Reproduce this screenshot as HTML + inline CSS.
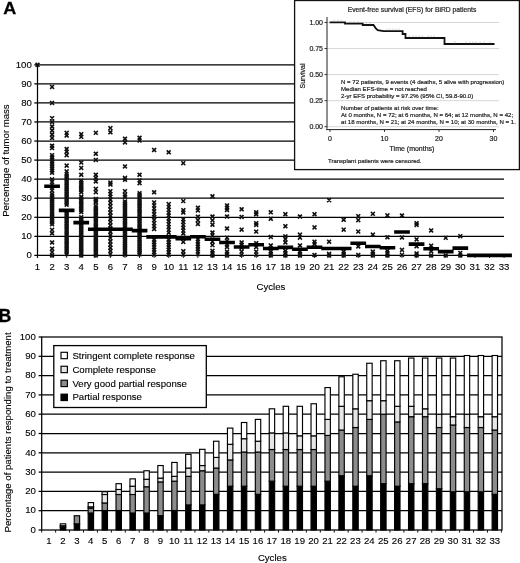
<!DOCTYPE html>
<html lang="en"><head><meta charset="utf-8"><title>Figure</title>
<style>html,body{margin:0;padding:0;background:#fff}svg{display:block}#chartA text,#chartB text{fill:#000;stroke:#000;stroke-width:0.12px}#inset text{stroke:#222;stroke-width:0.2px}</style></head>
<body>
<svg width="520" height="563" viewBox="0 0 520 563" font-family='"Liberation Sans", Arial, Helvetica, sans-serif' fill="#111">
<rect x="0" y="0" width="520" height="563" fill="#fff"/>
<g id="chartA">
<line x1="37.5" y1="255.40" x2="504" y2="255.40" stroke="#000" stroke-width="1.25"/>
<line x1="34.3" y1="255.40" x2="37.5" y2="255.40" stroke="#000" stroke-width="1.25"/>
<text x="31.8" y="258.20" font-size="9.6" text-anchor="end">0</text>
<line x1="37.5" y1="236.34" x2="504" y2="236.34" stroke="#000" stroke-width="1.25"/>
<line x1="34.3" y1="236.34" x2="37.5" y2="236.34" stroke="#000" stroke-width="1.25"/>
<text x="31.8" y="239.14" font-size="9.6" text-anchor="end">10</text>
<line x1="37.5" y1="217.28" x2="504" y2="217.28" stroke="#000" stroke-width="1.25"/>
<line x1="34.3" y1="217.28" x2="37.5" y2="217.28" stroke="#000" stroke-width="1.25"/>
<text x="31.8" y="220.08" font-size="9.6" text-anchor="end">20</text>
<line x1="37.5" y1="198.22" x2="504" y2="198.22" stroke="#000" stroke-width="1.25"/>
<line x1="34.3" y1="198.22" x2="37.5" y2="198.22" stroke="#000" stroke-width="1.25"/>
<text x="31.8" y="201.02" font-size="9.6" text-anchor="end">30</text>
<line x1="37.5" y1="179.16" x2="504" y2="179.16" stroke="#000" stroke-width="1.25"/>
<line x1="34.3" y1="179.16" x2="37.5" y2="179.16" stroke="#000" stroke-width="1.25"/>
<text x="31.8" y="181.96" font-size="9.6" text-anchor="end">40</text>
<line x1="37.5" y1="160.10" x2="504" y2="160.10" stroke="#000" stroke-width="1.25"/>
<line x1="34.3" y1="160.10" x2="37.5" y2="160.10" stroke="#000" stroke-width="1.25"/>
<text x="31.8" y="162.90" font-size="9.6" text-anchor="end">50</text>
<line x1="37.5" y1="141.04" x2="504" y2="141.04" stroke="#000" stroke-width="1.25"/>
<line x1="34.3" y1="141.04" x2="37.5" y2="141.04" stroke="#000" stroke-width="1.25"/>
<text x="31.8" y="143.84" font-size="9.6" text-anchor="end">60</text>
<line x1="37.5" y1="121.98" x2="504" y2="121.98" stroke="#000" stroke-width="1.25"/>
<line x1="34.3" y1="121.98" x2="37.5" y2="121.98" stroke="#000" stroke-width="1.25"/>
<text x="31.8" y="124.78" font-size="9.6" text-anchor="end">70</text>
<line x1="37.5" y1="102.92" x2="504" y2="102.92" stroke="#000" stroke-width="1.25"/>
<line x1="34.3" y1="102.92" x2="37.5" y2="102.92" stroke="#000" stroke-width="1.25"/>
<text x="31.8" y="105.72" font-size="9.6" text-anchor="end">80</text>
<line x1="37.5" y1="83.86" x2="504" y2="83.86" stroke="#000" stroke-width="1.25"/>
<line x1="34.3" y1="83.86" x2="37.5" y2="83.86" stroke="#000" stroke-width="1.25"/>
<text x="31.8" y="86.66" font-size="9.6" text-anchor="end">90</text>
<line x1="37.5" y1="64.80" x2="504" y2="64.80" stroke="#000" stroke-width="1.25"/>
<line x1="34.3" y1="64.80" x2="37.5" y2="64.80" stroke="#000" stroke-width="1.25"/>
<text x="31.8" y="67.60" font-size="9.6" text-anchor="end">100</text>
<line x1="37.5" y1="64.30" x2="37.5" y2="257.90" stroke="#000" stroke-width="1.25"/>
<line x1="37.50" y1="255.4" x2="37.50" y2="257.9" stroke="#111" stroke-width="1"/>
<text x="37.50" y="270.2" font-size="9.6" text-anchor="middle">1</text>
<line x1="52.08" y1="255.4" x2="52.08" y2="257.9" stroke="#111" stroke-width="1"/>
<text x="52.08" y="270.2" font-size="9.6" text-anchor="middle">2</text>
<line x1="66.66" y1="255.4" x2="66.66" y2="257.9" stroke="#111" stroke-width="1"/>
<text x="66.66" y="270.2" font-size="9.6" text-anchor="middle">3</text>
<line x1="81.24" y1="255.4" x2="81.24" y2="257.9" stroke="#111" stroke-width="1"/>
<text x="81.24" y="270.2" font-size="9.6" text-anchor="middle">4</text>
<line x1="95.82" y1="255.4" x2="95.82" y2="257.9" stroke="#111" stroke-width="1"/>
<text x="95.82" y="270.2" font-size="9.6" text-anchor="middle">5</text>
<line x1="110.40" y1="255.4" x2="110.40" y2="257.9" stroke="#111" stroke-width="1"/>
<text x="110.40" y="270.2" font-size="9.6" text-anchor="middle">6</text>
<line x1="124.98" y1="255.4" x2="124.98" y2="257.9" stroke="#111" stroke-width="1"/>
<text x="124.98" y="270.2" font-size="9.6" text-anchor="middle">7</text>
<line x1="139.56" y1="255.4" x2="139.56" y2="257.9" stroke="#111" stroke-width="1"/>
<text x="139.56" y="270.2" font-size="9.6" text-anchor="middle">8</text>
<line x1="154.14" y1="255.4" x2="154.14" y2="257.9" stroke="#111" stroke-width="1"/>
<text x="154.14" y="270.2" font-size="9.6" text-anchor="middle">9</text>
<line x1="168.72" y1="255.4" x2="168.72" y2="257.9" stroke="#111" stroke-width="1"/>
<text x="168.72" y="270.2" font-size="9.6" text-anchor="middle">10</text>
<line x1="183.30" y1="255.4" x2="183.30" y2="257.9" stroke="#111" stroke-width="1"/>
<text x="183.30" y="270.2" font-size="9.6" text-anchor="middle">11</text>
<line x1="197.88" y1="255.4" x2="197.88" y2="257.9" stroke="#111" stroke-width="1"/>
<text x="197.88" y="270.2" font-size="9.6" text-anchor="middle">12</text>
<line x1="212.46" y1="255.4" x2="212.46" y2="257.9" stroke="#111" stroke-width="1"/>
<text x="212.46" y="270.2" font-size="9.6" text-anchor="middle">13</text>
<line x1="227.04" y1="255.4" x2="227.04" y2="257.9" stroke="#111" stroke-width="1"/>
<text x="227.04" y="270.2" font-size="9.6" text-anchor="middle">14</text>
<line x1="241.62" y1="255.4" x2="241.62" y2="257.9" stroke="#111" stroke-width="1"/>
<text x="241.62" y="270.2" font-size="9.6" text-anchor="middle">15</text>
<line x1="256.20" y1="255.4" x2="256.20" y2="257.9" stroke="#111" stroke-width="1"/>
<text x="256.20" y="270.2" font-size="9.6" text-anchor="middle">16</text>
<line x1="270.78" y1="255.4" x2="270.78" y2="257.9" stroke="#111" stroke-width="1"/>
<text x="270.78" y="270.2" font-size="9.6" text-anchor="middle">17</text>
<line x1="285.36" y1="255.4" x2="285.36" y2="257.9" stroke="#111" stroke-width="1"/>
<text x="285.36" y="270.2" font-size="9.6" text-anchor="middle">18</text>
<line x1="299.94" y1="255.4" x2="299.94" y2="257.9" stroke="#111" stroke-width="1"/>
<text x="299.94" y="270.2" font-size="9.6" text-anchor="middle">19</text>
<line x1="314.52" y1="255.4" x2="314.52" y2="257.9" stroke="#111" stroke-width="1"/>
<text x="314.52" y="270.2" font-size="9.6" text-anchor="middle">20</text>
<line x1="329.10" y1="255.4" x2="329.10" y2="257.9" stroke="#111" stroke-width="1"/>
<text x="329.10" y="270.2" font-size="9.6" text-anchor="middle">21</text>
<line x1="343.68" y1="255.4" x2="343.68" y2="257.9" stroke="#111" stroke-width="1"/>
<text x="343.68" y="270.2" font-size="9.6" text-anchor="middle">22</text>
<line x1="358.26" y1="255.4" x2="358.26" y2="257.9" stroke="#111" stroke-width="1"/>
<text x="358.26" y="270.2" font-size="9.6" text-anchor="middle">23</text>
<line x1="372.84" y1="255.4" x2="372.84" y2="257.9" stroke="#111" stroke-width="1"/>
<text x="372.84" y="270.2" font-size="9.6" text-anchor="middle">24</text>
<line x1="387.42" y1="255.4" x2="387.42" y2="257.9" stroke="#111" stroke-width="1"/>
<text x="387.42" y="270.2" font-size="9.6" text-anchor="middle">25</text>
<line x1="402.00" y1="255.4" x2="402.00" y2="257.9" stroke="#111" stroke-width="1"/>
<text x="402.00" y="270.2" font-size="9.6" text-anchor="middle">26</text>
<line x1="416.58" y1="255.4" x2="416.58" y2="257.9" stroke="#111" stroke-width="1"/>
<text x="416.58" y="270.2" font-size="9.6" text-anchor="middle">27</text>
<line x1="431.16" y1="255.4" x2="431.16" y2="257.9" stroke="#111" stroke-width="1"/>
<text x="431.16" y="270.2" font-size="9.6" text-anchor="middle">28</text>
<line x1="445.74" y1="255.4" x2="445.74" y2="257.9" stroke="#111" stroke-width="1"/>
<text x="445.74" y="270.2" font-size="9.6" text-anchor="middle">29</text>
<line x1="460.32" y1="255.4" x2="460.32" y2="257.9" stroke="#111" stroke-width="1"/>
<text x="460.32" y="270.2" font-size="9.6" text-anchor="middle">30</text>
<line x1="474.90" y1="255.4" x2="474.90" y2="257.9" stroke="#111" stroke-width="1"/>
<text x="474.90" y="270.2" font-size="9.6" text-anchor="middle">31</text>
<line x1="489.48" y1="255.4" x2="489.48" y2="257.9" stroke="#111" stroke-width="1"/>
<text x="489.48" y="270.2" font-size="9.6" text-anchor="middle">32</text>
<line x1="504.06" y1="255.4" x2="504.06" y2="257.9" stroke="#111" stroke-width="1"/>
<text x="504.06" y="270.2" font-size="9.6" text-anchor="middle">33</text>
<text x="271" y="290" font-size="9.6" text-anchor="middle">Cycles</text>
<text transform="translate(9.2 160.6) rotate(-90)" font-size="9.6" text-anchor="middle">Percentage of tumor mass</text>
<text transform="translate(3.2 14.45) scale(1.05 1)" font-size="17.2" font-weight="bold" style="stroke-width:0.25px">A</text>
<path d="M36.12 63.42L38.88 66.18M36.12 66.18L38.88 63.42M50.70 85.53L53.46 88.29M50.70 88.29L53.46 85.53M50.70 101.54L53.46 104.30M50.70 104.30L53.46 101.54M50.70 116.79L53.46 119.55M50.70 119.55L53.46 116.79M50.70 120.60L53.46 123.36M50.70 123.36L53.46 120.60M50.70 125.17L53.46 127.93M50.70 127.93L53.46 125.17M50.70 129.18L53.46 131.94M50.70 131.94L53.46 129.18M50.70 133.18L53.46 135.94M50.70 135.94L53.46 133.18M50.70 136.61L53.46 139.37M50.70 139.37L53.46 136.61M50.70 144.43L53.46 147.19M50.70 147.19L53.46 144.43M50.70 146.71L53.46 149.47M50.70 149.47L53.46 146.71M50.70 153.76L53.46 156.52M50.70 156.52L53.46 153.76M50.70 155.96L53.46 158.72M50.70 158.72L53.46 155.96M50.70 158.15L53.46 160.91M50.70 160.91L53.46 158.15M50.70 160.34L53.46 163.10M50.70 163.10L53.46 160.34M50.70 162.53L53.46 165.29M50.70 165.29L53.46 162.53M50.70 164.72L53.46 167.48M50.70 167.48L53.46 164.72M50.70 166.92L53.46 169.68M50.70 169.68L53.46 166.92M50.70 169.11L53.46 171.87M50.70 171.87L53.46 169.11M50.70 171.30L53.46 174.06M50.70 174.06L53.46 171.30M50.70 177.97L53.46 180.73M50.70 180.73L53.46 177.97M50.70 180.64L53.46 183.40M50.70 183.40L53.46 180.64M50.70 183.50L53.46 186.26M50.70 186.26L53.46 183.50M50.70 186.36L53.46 189.12M50.70 189.12L53.46 186.36M50.70 189.22L53.46 191.98M50.70 191.98L53.46 189.22M50.70 192.46L53.46 195.22M50.70 195.22L53.46 192.46M50.70 194.36L53.46 197.12M50.70 197.12L53.46 194.36M50.70 196.27L53.46 199.03M50.70 199.03L53.46 196.27M50.70 198.17L53.46 200.93M50.70 200.93L53.46 198.17M50.70 200.08L53.46 202.84M50.70 202.84L53.46 200.08M50.70 201.99L53.46 204.75M50.70 204.75L53.46 201.99M50.70 203.89L53.46 206.65M50.70 206.65L53.46 203.89M50.70 205.80L53.46 208.56M50.70 208.56L53.46 205.80M50.70 207.70L53.46 210.46M50.70 210.46L53.46 207.70M50.70 209.61L53.46 212.37M50.70 212.37L53.46 209.61M50.70 211.52L53.46 214.28M50.70 214.28L53.46 211.52M50.70 213.42L53.46 216.18M50.70 216.18L53.46 213.42M50.70 215.33L53.46 218.09M50.70 218.09L53.46 215.33M50.70 217.23L53.46 219.99M50.70 219.99L53.46 217.23M50.70 219.14L53.46 221.90M50.70 221.90L53.46 219.14M50.70 221.05L53.46 223.81M50.70 223.81L53.46 221.05M50.70 222.95L53.46 225.71M50.70 225.71L53.46 222.95M50.70 228.48L53.46 231.24M50.70 231.24L53.46 228.48M50.70 231.91L53.46 234.67M50.70 234.67L53.46 231.91M50.70 241.06L53.46 243.82M50.70 243.82L53.46 241.06M50.70 247.35L53.46 250.11M50.70 250.11L53.46 247.35M50.70 250.78L53.46 253.54M50.70 253.54L53.46 250.78M50.70 254.02L53.46 256.78M50.70 256.78L53.46 254.02M65.28 131.46L68.04 134.22M65.28 134.22L68.04 131.46M65.28 134.13L68.04 136.89M65.28 136.89L68.04 134.13M65.28 147.67L68.04 150.43M65.28 150.43L68.04 147.67M65.28 150.33L68.04 153.09M65.28 153.09L68.04 150.33M65.28 153.76L68.04 156.52M65.28 156.52L68.04 153.76M65.28 164.25L68.04 167.01M65.28 167.01L68.04 164.25M65.28 169.97L68.04 172.73M65.28 172.73L68.04 169.97M65.28 172.63L68.04 175.39M65.28 175.39L68.04 172.63M65.28 174.73L68.04 177.49M65.28 177.49L68.04 174.73M65.28 176.64L68.04 179.40M65.28 179.40L68.04 176.64M65.28 178.54L68.04 181.30M65.28 181.30L68.04 178.54M65.28 180.45L68.04 183.21M65.28 183.21L68.04 180.45M65.28 182.35L68.04 185.11M65.28 185.11L68.04 182.35M65.28 184.26L68.04 187.02M65.28 187.02L68.04 184.26M65.28 186.17L68.04 188.93M65.28 188.93L68.04 186.17M65.28 188.07L68.04 190.83M65.28 190.83L68.04 188.07M65.28 189.98L68.04 192.74M65.28 192.74L68.04 189.98M65.28 191.88L68.04 194.64M65.28 194.64L68.04 191.88M65.28 193.79L68.04 196.55M65.28 196.55L68.04 193.79M65.28 195.70L68.04 198.46M65.28 198.46L68.04 195.70M65.28 197.60L68.04 200.36M65.28 200.36L68.04 197.60M65.28 199.51L68.04 202.27M65.28 202.27L68.04 199.51M65.28 201.41L68.04 204.17M65.28 204.17L68.04 201.41M65.28 203.32L68.04 206.08M65.28 206.08L68.04 203.32M65.28 210.56L68.04 213.32M65.28 213.32L68.04 210.56M65.28 212.47L68.04 215.23M65.28 215.23L68.04 212.47M65.28 214.38L68.04 217.14M65.28 217.14L68.04 214.38M65.28 216.28L68.04 219.04M65.28 219.04L68.04 216.28M65.28 218.19L68.04 220.95M65.28 220.95L68.04 218.19M65.28 220.09L68.04 222.85M65.28 222.85L68.04 220.09M65.28 222.00L68.04 224.76M65.28 224.76L68.04 222.00M65.28 223.91L68.04 226.67M65.28 226.67L68.04 223.91M65.28 225.81L68.04 228.57M65.28 228.57L68.04 225.81M65.28 227.72L68.04 230.48M65.28 230.48L68.04 227.72M65.28 229.62L68.04 232.38M65.28 232.38L68.04 229.62M65.28 231.53L68.04 234.29M65.28 234.29L68.04 231.53M65.28 233.44L68.04 236.20M65.28 236.20L68.04 233.44M65.28 235.34L68.04 238.10M65.28 238.10L68.04 235.34M65.28 237.25L68.04 240.01M65.28 240.01L68.04 237.25M65.28 239.15L68.04 241.91M65.28 241.91L68.04 239.15M65.28 241.06L68.04 243.82M65.28 243.82L68.04 241.06M65.28 242.97L68.04 245.73M65.28 245.73L68.04 242.97M65.28 244.87L68.04 247.63M65.28 247.63L68.04 244.87M65.28 246.78L68.04 249.54M65.28 249.54L68.04 246.78M65.28 248.68L68.04 251.44M65.28 251.44L68.04 248.68M65.28 250.59L68.04 253.35M65.28 253.35L68.04 250.59M65.28 252.50L68.04 255.26M65.28 255.26L68.04 252.50M79.86 132.80L82.62 135.56M79.86 135.56L82.62 132.80M79.86 135.47L82.62 138.23M79.86 138.23L82.62 135.47M79.86 161.20L82.62 163.96M79.86 163.96L82.62 161.20M79.86 166.53L82.62 169.29M79.86 169.29L82.62 166.53M79.86 173.40L82.62 176.16M79.86 176.16L82.62 173.40M79.86 179.30L82.62 182.06M79.86 182.06L82.62 179.30M79.86 181.21L82.62 183.97M79.86 183.97L82.62 181.21M79.86 183.12L82.62 185.88M79.86 185.88L82.62 183.12M79.86 185.02L82.62 187.78M79.86 187.78L82.62 185.02M79.86 186.93L82.62 189.69M79.86 189.69L82.62 186.93M79.86 188.83L82.62 191.59M79.86 191.59L82.62 188.83M79.86 190.74L82.62 193.50M79.86 193.50L82.62 190.74M79.86 195.32L82.62 198.08M79.86 198.08L82.62 195.32M79.86 197.22L82.62 199.98M79.86 199.98L82.62 197.22M79.86 199.13L82.62 201.89M79.86 201.89L82.62 199.13M79.86 201.03L82.62 203.79M79.86 203.79L82.62 201.03M79.86 202.94L82.62 205.70M79.86 205.70L82.62 202.94M79.86 204.85L82.62 207.61M79.86 207.61L82.62 204.85M79.86 206.75L82.62 209.51M79.86 209.51L82.62 206.75M79.86 208.66L82.62 211.42M79.86 211.42L82.62 208.66M79.86 210.56L82.62 213.32M79.86 213.32L82.62 210.56M79.86 215.90L82.62 218.66M79.86 218.66L82.62 215.90M79.86 217.81L82.62 220.57M79.86 220.57L82.62 217.81M79.86 219.71L82.62 222.47M79.86 222.47L82.62 219.71M79.86 221.62L82.62 224.38M79.86 224.38L82.62 221.62M79.86 223.52L82.62 226.28M79.86 226.28L82.62 223.52M79.86 225.43L82.62 228.19M79.86 228.19L82.62 225.43M79.86 227.34L82.62 230.10M79.86 230.10L82.62 227.34M79.86 229.24L82.62 232.00M79.86 232.00L82.62 229.24M79.86 231.15L82.62 233.91M79.86 233.91L82.62 231.15M79.86 233.05L82.62 235.81M79.86 235.81L82.62 233.05M79.86 234.96L82.62 237.72M79.86 237.72L82.62 234.96M79.86 236.87L82.62 239.63M79.86 239.63L82.62 236.87M79.86 238.77L82.62 241.53M79.86 241.53L82.62 238.77M79.86 240.68L82.62 243.44M79.86 243.44L82.62 240.68M79.86 242.58L82.62 245.34M79.86 245.34L82.62 242.58M79.86 244.49L82.62 247.25M79.86 247.25L82.62 244.49M79.86 246.40L82.62 249.16M79.86 249.16L82.62 246.40M79.86 248.30L82.62 251.06M79.86 251.06L82.62 248.30M79.86 250.21L82.62 252.97M79.86 252.97L82.62 250.21M79.86 252.11L82.62 254.87M79.86 254.87L82.62 252.11M79.86 254.02L82.62 256.78M79.86 256.78L82.62 254.02M94.44 131.46L97.20 134.22M94.44 134.22L97.20 131.46M94.44 152.43L97.20 155.19M94.44 155.19L97.20 152.43M94.44 158.53L97.20 161.29M94.44 161.29L97.20 158.53M94.44 173.40L97.20 176.16M94.44 176.16L97.20 173.40M94.44 176.64L97.20 179.40M94.44 179.40L97.20 176.64M94.44 180.07L97.20 182.83M94.44 182.83L97.20 180.07M94.44 187.50L97.20 190.26M94.44 190.26L97.20 187.50M94.44 190.74L97.20 193.50M94.44 193.50L97.20 190.74M94.44 197.60L97.20 200.36M94.44 200.36L97.20 197.60M94.44 199.32L97.20 202.08M94.44 202.08L97.20 199.32M94.44 201.03L97.20 203.79M94.44 203.79L97.20 201.03M94.44 204.46L97.20 207.22M94.44 207.22L97.20 204.46M94.44 206.37L97.20 209.13M94.44 209.13L97.20 206.37M94.44 208.28L97.20 211.04M94.44 211.04L97.20 208.28M94.44 210.18L97.20 212.94M94.44 212.94L97.20 210.18M94.44 212.09L97.20 214.85M94.44 214.85L97.20 212.09M94.44 213.99L97.20 216.75M94.44 216.75L97.20 213.99M94.44 215.90L97.20 218.66M94.44 218.66L97.20 215.90M94.44 217.81L97.20 220.57M94.44 220.57L97.20 217.81M94.44 219.71L97.20 222.47M94.44 222.47L97.20 219.71M94.44 221.62L97.20 224.38M94.44 224.38L97.20 221.62M94.44 223.52L97.20 226.28M94.44 226.28L97.20 223.52M94.44 225.43L97.20 228.19M94.44 228.19L97.20 225.43M94.44 227.34L97.20 230.10M94.44 230.10L97.20 227.34M94.44 229.24L97.20 232.00M94.44 232.00L97.20 229.24M94.44 231.15L97.20 233.91M94.44 233.91L97.20 231.15M94.44 233.05L97.20 235.81M94.44 235.81L97.20 233.05M94.44 234.96L97.20 237.72M94.44 237.72L97.20 234.96M94.44 236.87L97.20 239.63M94.44 239.63L97.20 236.87M94.44 238.77L97.20 241.53M94.44 241.53L97.20 238.77M94.44 240.68L97.20 243.44M94.44 243.44L97.20 240.68M94.44 242.58L97.20 245.34M94.44 245.34L97.20 242.58M94.44 244.49L97.20 247.25M94.44 247.25L97.20 244.49M94.44 246.40L97.20 249.16M94.44 249.16L97.20 246.40M94.44 248.30L97.20 251.06M94.44 251.06L97.20 248.30M94.44 250.21L97.20 252.97M94.44 252.97L97.20 250.21M94.44 252.11L97.20 254.87M94.44 254.87L97.20 252.11M94.44 254.02L97.20 256.78M94.44 256.78L97.20 254.02M109.02 126.70L111.78 129.46M109.02 129.46L111.78 126.70M109.02 130.89L111.78 133.65M109.02 133.65L111.78 130.89M109.02 181.21L111.78 183.97M109.02 183.97L111.78 181.21M109.02 183.12L111.78 185.88M109.02 185.88L111.78 183.12M109.02 189.79L111.78 192.55M109.02 192.55L111.78 189.79M109.02 192.65L111.78 195.41M109.02 195.41L111.78 192.65M109.02 195.32L111.78 198.08M109.02 198.08L111.78 195.32M109.02 198.36L111.78 201.12M109.02 201.12L111.78 198.36M109.02 201.57L111.78 204.33M109.02 204.33L111.78 201.57M109.02 204.77L111.78 207.53M109.02 207.53L111.78 204.77M109.02 207.97L111.78 210.73M109.02 210.73L111.78 207.97M109.02 211.17L111.78 213.93M109.02 213.93L111.78 211.17M109.02 214.38L111.78 217.14M109.02 217.14L111.78 214.38M109.02 217.58L111.78 220.34M109.02 220.34L111.78 217.58M109.02 220.78L111.78 223.54M109.02 223.54L111.78 220.78M109.02 223.98L111.78 226.74M109.02 226.74L111.78 223.98M109.02 227.18L111.78 229.94M109.02 229.94L111.78 227.18M109.02 230.39L111.78 233.15M109.02 233.15L111.78 230.39M109.02 233.59L111.78 236.35M109.02 236.35L111.78 233.59M109.02 236.79L111.78 239.55M109.02 239.55L111.78 236.79M109.02 239.99L111.78 242.75M109.02 242.75L111.78 239.99M109.02 243.19L111.78 245.95M109.02 245.95L111.78 243.19M109.02 246.40L111.78 249.16M109.02 249.16L111.78 246.40M109.02 249.60L111.78 252.36M109.02 252.36L111.78 249.60M109.02 252.80L111.78 255.56M109.02 255.56L111.78 252.80M123.60 137.37L126.36 140.13M123.60 140.13L126.36 137.37M123.60 140.99L126.36 143.75M123.60 143.75L126.36 140.99M123.60 165.01L126.36 167.77M123.60 167.77L126.36 165.01M123.60 176.45L126.36 179.21M123.60 179.21L126.36 176.45M123.60 178.35L126.36 181.11M123.60 181.11L126.36 178.35M123.60 189.79L126.36 192.55M123.60 192.55L126.36 189.79M123.60 193.22L126.36 195.98M123.60 195.98L126.36 193.22M123.60 195.32L126.36 198.08M123.60 198.08L126.36 195.32M123.60 200.08L126.36 202.84M123.60 202.84L126.36 200.08M123.60 201.99L126.36 204.75M123.60 204.75L126.36 201.99M123.60 203.89L126.36 206.65M123.60 206.65L126.36 203.89M123.60 205.80L126.36 208.56M123.60 208.56L126.36 205.80M123.60 207.70L126.36 210.46M123.60 210.46L126.36 207.70M123.60 209.61L126.36 212.37M123.60 212.37L126.36 209.61M123.60 211.52L126.36 214.28M123.60 214.28L126.36 211.52M123.60 213.42L126.36 216.18M123.60 216.18L126.36 213.42M123.60 215.33L126.36 218.09M123.60 218.09L126.36 215.33M123.60 217.23L126.36 219.99M123.60 219.99L126.36 217.23M123.60 219.14L126.36 221.90M123.60 221.90L126.36 219.14M123.60 221.05L126.36 223.81M123.60 223.81L126.36 221.05M123.60 222.95L126.36 225.71M123.60 225.71L126.36 222.95M123.60 224.86L126.36 227.62M123.60 227.62L126.36 224.86M123.60 226.76L126.36 229.52M123.60 229.52L126.36 226.76M123.60 228.67L126.36 231.43M123.60 231.43L126.36 228.67M123.60 230.58L126.36 233.34M123.60 233.34L126.36 230.58M123.60 232.48L126.36 235.24M123.60 235.24L126.36 232.48M123.60 234.39L126.36 237.15M123.60 237.15L126.36 234.39M123.60 236.29L126.36 239.05M123.60 239.05L126.36 236.29M123.60 238.20L126.36 240.96M123.60 240.96L126.36 238.20M123.60 240.11L126.36 242.87M123.60 242.87L126.36 240.11M123.60 242.01L126.36 244.77M123.60 244.77L126.36 242.01M123.60 243.92L126.36 246.68M123.60 246.68L126.36 243.92M123.60 245.82L126.36 248.58M123.60 248.58L126.36 245.82M123.60 247.73L126.36 250.49M123.60 250.49L126.36 247.73M123.60 249.64L126.36 252.40M123.60 252.40L126.36 249.64M123.60 251.54L126.36 254.30M123.60 254.30L126.36 251.54M123.60 253.45L126.36 256.21M123.60 256.21L126.36 253.45M138.18 136.42L140.94 139.18M138.18 139.18L140.94 136.42M138.18 139.09L140.94 141.85M138.18 141.85L140.94 139.09M138.18 173.40L140.94 176.16M138.18 176.16L140.94 173.40M138.18 179.11L140.94 181.87M138.18 181.87L140.94 179.11M138.18 181.78L140.94 184.54M138.18 184.54L140.94 181.78M138.18 191.88L140.94 194.64M138.18 194.64L140.94 191.88M138.18 193.79L140.94 196.55M138.18 196.55L140.94 193.79M138.18 195.70L140.94 198.46M138.18 198.46L140.94 195.70M138.18 197.60L140.94 200.36M138.18 200.36L140.94 197.60M138.18 199.51L140.94 202.27M138.18 202.27L140.94 199.51M138.18 201.41L140.94 204.17M138.18 204.17L140.94 201.41M138.18 203.32L140.94 206.08M138.18 206.08L140.94 203.32M138.18 205.23L140.94 207.99M138.18 207.99L140.94 205.23M138.18 207.13L140.94 209.89M138.18 209.89L140.94 207.13M138.18 209.04L140.94 211.80M138.18 211.80L140.94 209.04M138.18 210.94L140.94 213.70M138.18 213.70L140.94 210.94M138.18 212.85L140.94 215.61M138.18 215.61L140.94 212.85M138.18 214.76L140.94 217.52M138.18 217.52L140.94 214.76M138.18 216.66L140.94 219.42M138.18 219.42L140.94 216.66M138.18 218.57L140.94 221.33M138.18 221.33L140.94 218.57M138.18 220.47L140.94 223.23M138.18 223.23L140.94 220.47M138.18 222.38L140.94 225.14M138.18 225.14L140.94 222.38M138.18 224.29L140.94 227.05M138.18 227.05L140.94 224.29M138.18 226.19L140.94 228.95M138.18 228.95L140.94 226.19M138.18 228.10L140.94 230.86M138.18 230.86L140.94 228.10M138.18 230.00L140.94 232.76M138.18 232.76L140.94 230.00M138.18 231.91L140.94 234.67M138.18 234.67L140.94 231.91M138.18 233.82L140.94 236.58M138.18 236.58L140.94 233.82M138.18 235.72L140.94 238.48M138.18 238.48L140.94 235.72M138.18 237.63L140.94 240.39M138.18 240.39L140.94 237.63M138.18 239.53L140.94 242.29M138.18 242.29L140.94 239.53M138.18 241.44L140.94 244.20M138.18 244.20L140.94 241.44M138.18 243.35L140.94 246.11M138.18 246.11L140.94 243.35M138.18 245.25L140.94 248.01M138.18 248.01L140.94 245.25M138.18 247.16L140.94 249.92M138.18 249.92L140.94 247.16M138.18 249.06L140.94 251.82M138.18 251.82L140.94 249.06M138.18 250.97L140.94 253.73M138.18 253.73L140.94 250.97M138.18 252.88L140.94 255.64M138.18 255.64L140.94 252.88M152.76 148.62L155.52 151.38M152.76 151.38L155.52 148.62M152.76 190.93L155.52 193.69M152.76 193.69L155.52 190.93M152.76 201.03L155.52 203.79M152.76 203.79L155.52 201.03M152.76 203.99L155.52 206.75M152.76 206.75L155.52 203.99M152.76 206.94L155.52 209.70M152.76 209.70L155.52 206.94M152.76 209.90L155.52 212.66M152.76 212.66L155.52 209.90M152.76 212.85L155.52 215.61M152.76 215.61L155.52 212.85M152.76 215.80L155.52 218.56M152.76 218.56L155.52 215.80M152.76 218.76L155.52 221.52M152.76 221.52L155.52 218.76M152.76 221.71L155.52 224.47M152.76 224.47L155.52 221.71M152.76 224.67L155.52 227.43M152.76 227.43L155.52 224.67M152.76 227.62L155.52 230.38M152.76 230.38L155.52 227.62M152.76 238.39L155.52 241.15M152.76 241.15L155.52 238.39M152.76 240.87L155.52 243.63M152.76 243.63L155.52 240.87M152.76 243.35L155.52 246.11M152.76 246.11L155.52 243.35M152.76 245.82L155.52 248.58M152.76 248.58L155.52 245.82M152.76 248.30L155.52 251.06M152.76 251.06L155.52 248.30M152.76 250.78L155.52 253.54M152.76 253.54L155.52 250.78M152.76 253.26L155.52 256.02M152.76 256.02L155.52 253.26M167.34 150.91L170.10 153.67M167.34 153.67L170.10 150.91M167.34 202.75L170.10 205.51M167.34 205.51L170.10 202.75M167.34 205.61L170.10 208.37M167.34 208.37L170.10 205.61M167.34 208.47L170.10 211.23M167.34 211.23L170.10 208.47M167.34 211.33L170.10 214.09M167.34 214.09L170.10 211.33M167.34 214.18L170.10 216.94M167.34 216.94L170.10 214.18M167.34 217.04L170.10 219.80M167.34 219.80L170.10 217.04M167.34 219.90L170.10 222.66M167.34 222.66L170.10 219.90M167.34 222.76L170.10 225.52M167.34 225.52L170.10 222.76M167.34 225.62L170.10 228.38M167.34 228.38L170.10 225.62M167.34 228.48L170.10 231.24M167.34 231.24L170.10 228.48M167.34 231.34L170.10 234.10M167.34 234.10L170.10 231.34M167.34 238.39L170.10 241.15M167.34 241.15L170.10 238.39M167.34 240.87L170.10 243.63M167.34 243.63L170.10 240.87M167.34 243.35L170.10 246.11M167.34 246.11L170.10 243.35M167.34 245.82L170.10 248.58M167.34 248.58L170.10 245.82M167.34 248.30L170.10 251.06M167.34 251.06L170.10 248.30M167.34 250.78L170.10 253.54M167.34 253.54L170.10 250.78M167.34 253.26L170.10 256.02M167.34 256.02L170.10 253.26M181.92 161.77L184.68 164.53M181.92 164.53L184.68 161.77M181.92 199.70L184.68 202.46M181.92 202.46L184.68 199.70M181.92 208.85L184.68 211.61M181.92 211.61L184.68 208.85M181.92 211.14L184.68 213.90M181.92 213.90L184.68 211.14M181.92 217.81L184.68 220.57M181.92 220.57L184.68 217.81M181.92 220.67L184.68 223.43M181.92 223.43L184.68 220.67M181.92 223.52L184.68 226.28M181.92 226.28L184.68 223.52M181.92 226.38L184.68 229.14M181.92 229.14L184.68 226.38M181.92 229.24L184.68 232.00M181.92 232.00L184.68 229.24M181.92 232.10L184.68 234.86M181.92 234.86L184.68 232.10M181.92 240.49L184.68 243.25M181.92 243.25L184.68 240.49M181.92 249.83L184.68 252.59M181.92 252.59L184.68 249.83M181.92 253.07L184.68 255.83M181.92 255.83L184.68 253.07M196.50 206.37L199.26 209.13M196.50 209.13L199.26 206.37M196.50 209.04L199.26 211.80M196.50 211.80L199.26 209.04M196.50 215.33L199.26 218.09M196.50 218.09L199.26 215.33M196.50 218.76L199.26 221.52M196.50 221.52L199.26 218.76M196.50 222.57L199.26 225.33M196.50 225.33L199.26 222.57M196.50 237.82L199.26 240.58M196.50 240.58L199.26 237.82M196.50 240.30L199.26 243.06M196.50 243.06L199.26 240.30M196.50 242.77L199.26 245.53M196.50 245.53L199.26 242.77M196.50 245.25L199.26 248.01M196.50 248.01L199.26 245.25M196.50 247.73L199.26 250.49M196.50 250.49L199.26 247.73M196.50 250.21L199.26 252.97M196.50 252.97L199.26 250.21M196.50 252.69L199.26 255.45M196.50 255.45L199.26 252.69M211.08 194.93L213.84 197.69M211.08 197.69L213.84 194.93M211.08 215.14L213.84 217.90M211.08 217.90L213.84 215.14M211.08 218.95L213.84 221.71M211.08 221.71L213.84 218.95M211.08 223.33L213.84 226.09M211.08 226.09L213.84 223.33M211.08 231.15L213.84 233.91M211.08 233.91L213.84 231.15M211.08 234.01L213.84 236.77M211.08 236.77L213.84 234.01M211.08 240.30L213.84 243.06M211.08 243.06L213.84 240.30M211.08 243.73L213.84 246.49M211.08 246.49L213.84 243.73M211.08 249.45L213.84 252.21M211.08 252.21L213.84 249.45M211.08 251.73L213.84 254.49M211.08 254.49L213.84 251.73M211.08 254.02L213.84 256.78M211.08 256.78L213.84 254.02M225.66 204.08L228.42 206.84M225.66 206.84L228.42 204.08M225.66 206.37L228.42 209.13M225.66 209.13L228.42 206.37M225.66 208.66L228.42 211.42M225.66 211.42L228.42 208.66M225.66 215.14L228.42 217.90M225.66 217.90L228.42 215.14M225.66 227.15L228.42 229.91M225.66 229.91L228.42 227.15M225.66 236.29L228.42 239.05M225.66 239.05L228.42 236.29M225.66 239.53L228.42 242.29M225.66 242.29L228.42 239.53M225.66 243.35L228.42 246.11M225.66 246.11L228.42 243.35M225.66 245.63L228.42 248.39M225.66 248.39L228.42 245.63M225.66 250.21L228.42 252.97M225.66 252.97L228.42 250.21M225.66 252.50L228.42 255.26M225.66 255.26L228.42 252.50M225.66 254.02L228.42 256.78M225.66 256.78L228.42 254.02M240.24 207.89L243.00 210.65M240.24 210.65L243.00 207.89M240.24 215.52L243.00 218.28M240.24 218.28L243.00 215.52M240.24 228.29L243.00 231.05M240.24 231.05L243.00 228.29M240.24 241.06L243.00 243.82M240.24 243.82L243.00 241.06M240.24 243.35L243.00 246.11M240.24 246.11L243.00 243.35M240.24 246.40L243.00 249.16M240.24 249.16L243.00 246.40M240.24 250.21L243.00 252.97M240.24 252.97L243.00 250.21M240.24 253.26L243.00 256.02M240.24 256.02L243.00 253.26M254.82 210.94L257.58 213.70M254.82 213.70L257.58 210.94M254.82 212.85L257.58 215.61M254.82 215.61L257.58 212.85M254.82 221.81L257.58 224.57M254.82 224.57L257.58 221.81M254.82 223.52L257.58 226.28M254.82 226.28L257.58 223.52M254.82 230.20L257.58 232.96M254.82 232.96L257.58 230.20M254.82 241.82L257.58 244.58M254.82 244.58L257.58 241.82M254.82 245.63L257.58 248.39M254.82 248.39L257.58 245.63M254.82 250.21L257.58 252.97M254.82 252.97L257.58 250.21M254.82 253.26L257.58 256.02M254.82 256.02L257.58 253.26M269.40 210.94L272.16 213.70M269.40 213.70L272.16 210.94M269.40 217.42L272.16 220.18M269.40 220.18L272.16 217.42M269.40 235.53L272.16 238.29M269.40 238.29L272.16 235.53M269.40 244.11L272.16 246.87M269.40 246.87L272.16 244.11M269.40 250.21L272.16 252.97M269.40 252.97L272.16 250.21M269.40 252.50L272.16 255.26M269.40 255.26L272.16 252.50M269.40 254.02L272.16 256.78M269.40 256.78L272.16 254.02M283.98 212.85L286.74 215.61M283.98 215.61L286.74 212.85M283.98 224.86L286.74 227.62M283.98 227.62L286.74 224.86M283.98 234.96L286.74 237.72M283.98 237.72L286.74 234.96M283.98 237.82L286.74 240.58M283.98 240.58L286.74 237.82M283.98 241.06L286.74 243.82M283.98 243.82L286.74 241.06M283.98 249.45L286.74 252.21M283.98 252.21L286.74 249.45M283.98 251.73L286.74 254.49M283.98 254.49L286.74 251.73M283.98 254.02L286.74 256.78M283.98 256.78L286.74 254.02M298.56 215.14L301.32 217.90M298.56 217.90L301.32 215.14M298.56 233.24L301.32 236.00M298.56 236.00L301.32 233.24M298.56 236.29L301.32 239.05M298.56 239.05L301.32 236.29M298.56 244.11L301.32 246.87M298.56 246.87L301.32 244.11M298.56 250.21L301.32 252.97M298.56 252.97L301.32 250.21M298.56 252.50L301.32 255.26M298.56 255.26L301.32 252.50M298.56 254.02L301.32 256.78M298.56 256.78L301.32 254.02M313.14 212.85L315.90 215.61M313.14 215.61L315.90 212.85M313.14 226.00L315.90 228.76M313.14 228.76L315.90 226.00M313.14 240.30L315.90 243.06M313.14 243.06L315.90 240.30M313.14 242.58L315.90 245.34M313.14 245.34L315.90 242.58M313.14 253.64L315.90 256.40M313.14 256.40L315.90 253.64M327.72 198.75L330.48 201.51M327.72 201.51L330.48 198.75M327.72 240.30L330.48 243.06M327.72 243.06L330.48 240.30M327.72 252.50L330.48 255.26M327.72 255.26L330.48 252.50M327.72 254.02L330.48 256.78M327.72 256.78L330.48 254.02M342.30 218.38L345.06 221.14M342.30 221.14L345.06 218.38M342.30 228.29L345.06 231.05M342.30 231.05L345.06 228.29M342.30 250.21L345.06 252.97M342.30 252.97L345.06 250.21M342.30 252.50L345.06 255.26M342.30 255.26L345.06 252.50M342.30 254.02L345.06 256.78M342.30 256.78L345.06 254.02M356.88 214.76L359.64 217.52M356.88 217.52L359.64 214.76M356.88 218.76L359.64 221.52M356.88 221.52L359.64 218.76M356.88 230.20L359.64 232.96M356.88 232.96L359.64 230.20M356.88 245.06L359.64 247.82M356.88 247.82L359.64 245.06M356.88 253.64L359.64 256.40M356.88 256.40L359.64 253.64M371.46 212.47L374.22 215.23M371.46 215.23L374.22 212.47M371.46 233.24L374.22 236.00M371.46 236.00L374.22 233.24M371.46 250.21L374.22 252.97M371.46 252.97L374.22 250.21M371.46 252.50L374.22 255.26M371.46 255.26L374.22 252.50M371.46 254.02L374.22 256.78M371.46 256.78L374.22 254.02M386.04 213.99L388.80 216.75M386.04 216.75L388.80 213.99M386.04 235.91L388.80 238.67M386.04 238.67L388.80 235.91M386.04 249.45L388.80 252.21M386.04 252.21L388.80 249.45M386.04 251.73L388.80 254.49M386.04 254.49L388.80 251.73M386.04 254.02L388.80 256.78M386.04 256.78L388.80 254.02M400.62 214.18L403.38 216.94M400.62 216.94L403.38 214.18M400.62 236.10L403.38 238.86M400.62 238.86L403.38 236.10M400.62 248.49L403.38 251.25M400.62 251.25L403.38 248.49M400.62 253.45L403.38 256.21M400.62 256.21L403.38 253.45M415.20 221.81L417.96 224.57M415.20 224.57L417.96 221.81M415.20 223.52L417.96 226.28M415.20 226.28L417.96 223.52M415.20 238.01L417.96 240.77M415.20 240.77L417.96 238.01M415.20 244.87L417.96 247.63M415.20 247.63L417.96 244.87M415.20 252.11L417.96 254.87M415.20 254.87L417.96 252.11M415.20 254.02L417.96 256.78M415.20 256.78L417.96 254.02M429.78 229.05L432.54 231.81M429.78 231.81L432.54 229.05M429.78 244.30L432.54 247.06M429.78 247.06L432.54 244.30M429.78 249.83L432.54 252.59M429.78 252.59L432.54 249.83M429.78 254.02L432.54 256.78M429.78 256.78L432.54 254.02M444.36 236.48L447.12 239.24M444.36 239.24L447.12 236.48M444.36 254.02L447.12 256.78M444.36 256.78L447.12 254.02M458.94 234.77L461.70 237.53M458.94 237.53L461.70 234.77M458.94 251.54L461.70 254.30M458.94 254.30L461.70 251.54M458.94 254.02L461.70 256.78M458.94 256.78L461.70 254.02" stroke="#111" stroke-width="1.6" stroke-linecap="square" fill="none"/>
<path d="M44.23 186.21H59.93M58.81 210.42H74.51M73.39 222.62H89.09M87.97 229.29H103.67M102.55 229.29H118.25M117.13 229.29H132.83M131.71 230.62H147.41M146.29 236.91H161.99M160.87 236.91H176.57M175.45 238.63H191.15M190.03 236.72H205.73M204.61 239.20H220.31M219.19 242.44H234.89M233.77 247.01H249.47M248.35 244.73H264.05M262.93 248.54H278.63M277.51 247.39H293.21M292.09 249.30H307.79M306.67 247.20H322.37M321.25 248.54H336.95M335.83 248.54H351.53M350.41 243.20H366.11M364.99 246.44H380.69M379.57 247.78H395.27M394.15 231.96H409.85M408.73 244.15H424.43M423.31 248.73H439.01M437.89 251.59H453.59M452.47 248.16H468.17M467.05 255.40H482.75M481.63 255.40H497.33M496.21 255.40H511.91" stroke="#000" stroke-width="3.6" fill="none"/>
</g>
<g id="inset">
<rect x="294.6" y="0.5" width="224.8" height="169.1" fill="#fff" stroke="#111" stroke-width="1.3"/>
<line x1="327" y1="126.70" x2="499" y2="126.70" stroke="#ccc" stroke-width="0.8"/>
<line x1="327" y1="100.65" x2="499" y2="100.65" stroke="#ccc" stroke-width="0.8"/>
<line x1="327" y1="74.60" x2="499" y2="74.60" stroke="#ccc" stroke-width="0.8"/>
<line x1="327" y1="48.55" x2="499" y2="48.55" stroke="#ccc" stroke-width="0.8"/>
<line x1="327" y1="22.50" x2="499" y2="22.50" stroke="#ccc" stroke-width="0.8"/>
<line x1="324.5" y1="126.70" x2="327" y2="126.70" stroke="#222" stroke-width="0.9"/>
<text x="323" y="129.20" font-size="7.0" text-anchor="end" fill="#222">0.00</text>
<line x1="324.5" y1="100.65" x2="327" y2="100.65" stroke="#222" stroke-width="0.9"/>
<text x="323" y="103.15" font-size="7.0" text-anchor="end" fill="#222">0.25</text>
<line x1="324.5" y1="74.60" x2="327" y2="74.60" stroke="#222" stroke-width="0.9"/>
<text x="323" y="77.10" font-size="7.0" text-anchor="end" fill="#222">0.50</text>
<line x1="324.5" y1="48.55" x2="327" y2="48.55" stroke="#222" stroke-width="0.9"/>
<text x="323" y="51.05" font-size="7.0" text-anchor="end" fill="#222">0.75</text>
<line x1="324.5" y1="22.50" x2="327" y2="22.50" stroke="#222" stroke-width="0.9"/>
<text x="323" y="25.00" font-size="7.0" text-anchor="end" fill="#222">1.00</text>
<line x1="327" y1="17" x2="327" y2="128.8" stroke="#222" stroke-width="1"/>
<line x1="326" y1="129.6" x2="496" y2="129.6" stroke="#222" stroke-width="1"/>
<line x1="330.00" y1="129.6" x2="330.00" y2="132" stroke="#222" stroke-width="0.9"/>
<text x="330.00" y="141.3" font-size="7.0" text-anchor="middle" fill="#222">0</text>
<line x1="384.50" y1="129.6" x2="384.50" y2="132" stroke="#222" stroke-width="0.9"/>
<text x="384.50" y="141.3" font-size="7.0" text-anchor="middle" fill="#222">10</text>
<line x1="439.00" y1="129.6" x2="439.00" y2="132" stroke="#222" stroke-width="0.9"/>
<text x="439.00" y="141.3" font-size="7.0" text-anchor="middle" fill="#222">20</text>
<line x1="493.50" y1="129.6" x2="493.50" y2="132" stroke="#222" stroke-width="0.9"/>
<text x="493.50" y="141.3" font-size="7.0" text-anchor="middle" fill="#222">30</text>
<text x="412" y="151.3" font-size="7.0" text-anchor="middle" fill="#222">Time (months)</text>
<text transform="translate(304.8 76) rotate(-90)" font-size="7.0" text-anchor="middle" fill="#222">Survival</text>
<text x="412" y="12" font-size="6.77" text-anchor="middle" fill="#222">Event-free survival (EFS) for BiRD patients</text>
<text x="341" y="84.0" font-size="6.08" fill="#222">N = 72 patients, 9 events (4 deaths, 5 alive with progression)</text>
<text x="341" y="91.1" font-size="6.08" fill="#222">Median EFS-time = not reached</text>
<text x="341" y="98.2" font-size="6.08" fill="#222">2-yr EFS probability = 97.2% (95% CI, 59.8-90.0)</text>
<text x="341" y="109.65" font-size="6.08" fill="#222">Number of patients at risk over time:</text>
<text x="341" y="116.75" font-size="6.08" fill="#222">At 0 months, N = 72; at 6 months, N = 64; at 12 months, N = 42;</text>
<text x="341" y="123.85" font-size="6.08" fill="#222">at 18 months, N = 21; at 24 months, N = 10; at 30 months, N = 1.</text>
<text x="328" y="162.8" font-size="6" fill="#222">Transplant patients were censored.</text>
<path d="M329.6 22.3L345 22.3L345 23.6L362.7 23.6L362.7 25.0L373.5 25.0L375.8 28.3L377.7 30.2L383.5 31.2L402.6 31.2L402.6 34L405.5 34L405.5 38L444.5 38L444.5 44L494.5 44" stroke="#111" stroke-width="1.8" fill="none" stroke-linejoin="miter"/>
<path d="M334 21.7V19.7M338 21.7V19.7M341 21.7V19.7M350 23.0V21.0M354 23.0V21.0M358 23.0V21.0M366 24.4V22.4M370 24.4V22.4M387 30.599999999999998V28.599999999999998M390 30.599999999999998V28.599999999999998M393 30.599999999999998V28.599999999999998M396 30.599999999999998V28.599999999999998M399 30.599999999999998V28.599999999999998M409 37.4V35.4M413 37.4V35.4M416 37.4V35.4M419 37.4V35.4M422 37.4V35.4M428 37.4V35.4M431 37.4V35.4M434 37.4V35.4M455 43.4V41.4M466 43.4V41.4M470 43.4V41.4M473 43.4V41.4M476 43.4V41.4M480 43.4V41.4M484 43.4V41.4M490 43.4V41.4" stroke="#999" stroke-width="0.5" fill="none"/>
</g>
<g id="chartB">
<rect x="41.7" y="337.00" width="460.3" height="193.00" fill="#fff" stroke="#000" stroke-width="1.25"/>
<line x1="38.6" y1="530.00" x2="41.7" y2="530.00" stroke="#000" stroke-width="1.25"/>
<text x="35.8" y="532.70" font-size="9.6" text-anchor="end">0</text>
<line x1="41.7" y1="510.70" x2="502.0" y2="510.70" stroke="#000" stroke-width="1.25"/>
<line x1="38.6" y1="510.70" x2="41.7" y2="510.70" stroke="#000" stroke-width="1.25"/>
<text x="35.8" y="513.40" font-size="9.6" text-anchor="end">10</text>
<line x1="41.7" y1="491.40" x2="502.0" y2="491.40" stroke="#000" stroke-width="1.25"/>
<line x1="38.6" y1="491.40" x2="41.7" y2="491.40" stroke="#000" stroke-width="1.25"/>
<text x="35.8" y="494.10" font-size="9.6" text-anchor="end">20</text>
<line x1="41.7" y1="472.10" x2="502.0" y2="472.10" stroke="#000" stroke-width="1.25"/>
<line x1="38.6" y1="472.10" x2="41.7" y2="472.10" stroke="#000" stroke-width="1.25"/>
<text x="35.8" y="474.80" font-size="9.6" text-anchor="end">30</text>
<line x1="41.7" y1="452.80" x2="502.0" y2="452.80" stroke="#000" stroke-width="1.25"/>
<line x1="38.6" y1="452.80" x2="41.7" y2="452.80" stroke="#000" stroke-width="1.25"/>
<text x="35.8" y="455.50" font-size="9.6" text-anchor="end">40</text>
<line x1="41.7" y1="433.50" x2="502.0" y2="433.50" stroke="#000" stroke-width="1.25"/>
<line x1="38.6" y1="433.50" x2="41.7" y2="433.50" stroke="#000" stroke-width="1.25"/>
<text x="35.8" y="436.20" font-size="9.6" text-anchor="end">50</text>
<line x1="41.7" y1="414.20" x2="502.0" y2="414.20" stroke="#000" stroke-width="1.25"/>
<line x1="38.6" y1="414.20" x2="41.7" y2="414.20" stroke="#000" stroke-width="1.25"/>
<text x="35.8" y="416.90" font-size="9.6" text-anchor="end">60</text>
<line x1="41.7" y1="394.90" x2="502.0" y2="394.90" stroke="#000" stroke-width="1.25"/>
<line x1="38.6" y1="394.90" x2="41.7" y2="394.90" stroke="#000" stroke-width="1.25"/>
<text x="35.8" y="397.60" font-size="9.6" text-anchor="end">70</text>
<line x1="41.7" y1="375.60" x2="502.0" y2="375.60" stroke="#000" stroke-width="1.25"/>
<line x1="38.6" y1="375.60" x2="41.7" y2="375.60" stroke="#000" stroke-width="1.25"/>
<text x="35.8" y="378.30" font-size="9.6" text-anchor="end">80</text>
<line x1="41.7" y1="356.30" x2="502.0" y2="356.30" stroke="#000" stroke-width="1.25"/>
<line x1="38.6" y1="356.30" x2="41.7" y2="356.30" stroke="#000" stroke-width="1.25"/>
<text x="35.8" y="359.00" font-size="9.6" text-anchor="end">90</text>
<line x1="38.6" y1="337.00" x2="41.7" y2="337.00" stroke="#000" stroke-width="1.25"/>
<text x="35.8" y="339.70" font-size="9.6" text-anchor="end">100</text>
<line x1="41.70" y1="530.0" x2="41.70" y2="532.6" stroke="#111" stroke-width="1"/>
<line x1="55.63" y1="530.0" x2="55.63" y2="532.6" stroke="#111" stroke-width="1"/>
<line x1="69.56" y1="530.0" x2="69.56" y2="532.6" stroke="#111" stroke-width="1"/>
<line x1="83.49" y1="530.0" x2="83.49" y2="532.6" stroke="#111" stroke-width="1"/>
<line x1="97.42" y1="530.0" x2="97.42" y2="532.6" stroke="#111" stroke-width="1"/>
<line x1="111.35" y1="530.0" x2="111.35" y2="532.6" stroke="#111" stroke-width="1"/>
<line x1="125.28" y1="530.0" x2="125.28" y2="532.6" stroke="#111" stroke-width="1"/>
<line x1="139.21" y1="530.0" x2="139.21" y2="532.6" stroke="#111" stroke-width="1"/>
<line x1="153.14" y1="530.0" x2="153.14" y2="532.6" stroke="#111" stroke-width="1"/>
<line x1="167.07" y1="530.0" x2="167.07" y2="532.6" stroke="#111" stroke-width="1"/>
<line x1="181.00" y1="530.0" x2="181.00" y2="532.6" stroke="#111" stroke-width="1"/>
<line x1="194.93" y1="530.0" x2="194.93" y2="532.6" stroke="#111" stroke-width="1"/>
<line x1="208.86" y1="530.0" x2="208.86" y2="532.6" stroke="#111" stroke-width="1"/>
<line x1="222.79" y1="530.0" x2="222.79" y2="532.6" stroke="#111" stroke-width="1"/>
<line x1="236.72" y1="530.0" x2="236.72" y2="532.6" stroke="#111" stroke-width="1"/>
<line x1="250.65" y1="530.0" x2="250.65" y2="532.6" stroke="#111" stroke-width="1"/>
<line x1="264.58" y1="530.0" x2="264.58" y2="532.6" stroke="#111" stroke-width="1"/>
<line x1="278.51" y1="530.0" x2="278.51" y2="532.6" stroke="#111" stroke-width="1"/>
<line x1="292.44" y1="530.0" x2="292.44" y2="532.6" stroke="#111" stroke-width="1"/>
<line x1="306.37" y1="530.0" x2="306.37" y2="532.6" stroke="#111" stroke-width="1"/>
<line x1="320.30" y1="530.0" x2="320.30" y2="532.6" stroke="#111" stroke-width="1"/>
<line x1="334.23" y1="530.0" x2="334.23" y2="532.6" stroke="#111" stroke-width="1"/>
<line x1="348.16" y1="530.0" x2="348.16" y2="532.6" stroke="#111" stroke-width="1"/>
<line x1="362.09" y1="530.0" x2="362.09" y2="532.6" stroke="#111" stroke-width="1"/>
<line x1="376.02" y1="530.0" x2="376.02" y2="532.6" stroke="#111" stroke-width="1"/>
<line x1="389.95" y1="530.0" x2="389.95" y2="532.6" stroke="#111" stroke-width="1"/>
<line x1="403.88" y1="530.0" x2="403.88" y2="532.6" stroke="#111" stroke-width="1"/>
<line x1="417.81" y1="530.0" x2="417.81" y2="532.6" stroke="#111" stroke-width="1"/>
<line x1="431.74" y1="530.0" x2="431.74" y2="532.6" stroke="#111" stroke-width="1"/>
<line x1="445.67" y1="530.0" x2="445.67" y2="532.6" stroke="#111" stroke-width="1"/>
<line x1="459.60" y1="530.0" x2="459.60" y2="532.6" stroke="#111" stroke-width="1"/>
<line x1="473.53" y1="530.0" x2="473.53" y2="532.6" stroke="#111" stroke-width="1"/>
<line x1="487.46" y1="530.0" x2="487.46" y2="532.6" stroke="#111" stroke-width="1"/>
<line x1="501.39" y1="530.0" x2="501.39" y2="532.6" stroke="#111" stroke-width="1"/>
<text x="48.97" y="544.1" font-size="9.6" text-anchor="middle">1</text>
<text x="62.89" y="544.1" font-size="9.6" text-anchor="middle">2</text>
<text x="76.83" y="544.1" font-size="9.6" text-anchor="middle">3</text>
<text x="90.75" y="544.1" font-size="9.6" text-anchor="middle">4</text>
<text x="104.69" y="544.1" font-size="9.6" text-anchor="middle">5</text>
<text x="118.61" y="544.1" font-size="9.6" text-anchor="middle">6</text>
<text x="132.55" y="544.1" font-size="9.6" text-anchor="middle">7</text>
<text x="146.48" y="544.1" font-size="9.6" text-anchor="middle">8</text>
<text x="160.41" y="544.1" font-size="9.6" text-anchor="middle">9</text>
<text x="174.34" y="544.1" font-size="9.6" text-anchor="middle">10</text>
<text x="188.26" y="544.1" font-size="9.6" text-anchor="middle">11</text>
<text x="202.19" y="544.1" font-size="9.6" text-anchor="middle">12</text>
<text x="216.12" y="544.1" font-size="9.6" text-anchor="middle">13</text>
<text x="230.06" y="544.1" font-size="9.6" text-anchor="middle">14</text>
<text x="243.99" y="544.1" font-size="9.6" text-anchor="middle">15</text>
<text x="257.92" y="544.1" font-size="9.6" text-anchor="middle">16</text>
<text x="271.85" y="544.1" font-size="9.6" text-anchor="middle">17</text>
<text x="285.78" y="544.1" font-size="9.6" text-anchor="middle">18</text>
<text x="299.70" y="544.1" font-size="9.6" text-anchor="middle">19</text>
<text x="313.63" y="544.1" font-size="9.6" text-anchor="middle">20</text>
<text x="327.56" y="544.1" font-size="9.6" text-anchor="middle">21</text>
<text x="341.50" y="544.1" font-size="9.6" text-anchor="middle">22</text>
<text x="355.43" y="544.1" font-size="9.6" text-anchor="middle">23</text>
<text x="369.36" y="544.1" font-size="9.6" text-anchor="middle">24</text>
<text x="383.28" y="544.1" font-size="9.6" text-anchor="middle">25</text>
<text x="397.21" y="544.1" font-size="9.6" text-anchor="middle">26</text>
<text x="411.14" y="544.1" font-size="9.6" text-anchor="middle">27</text>
<text x="425.07" y="544.1" font-size="9.6" text-anchor="middle">28</text>
<text x="439.00" y="544.1" font-size="9.6" text-anchor="middle">29</text>
<text x="452.94" y="544.1" font-size="9.6" text-anchor="middle">30</text>
<text x="466.87" y="544.1" font-size="9.6" text-anchor="middle">31</text>
<text x="480.80" y="544.1" font-size="9.6" text-anchor="middle">32</text>
<text x="494.72" y="544.1" font-size="9.6" text-anchor="middle">33</text>
<text x="272.3" y="560.7" font-size="9.6" text-anchor="middle">Cycles</text>
<text transform="translate(11.2 432.4) rotate(-90)" font-size="9.6" text-anchor="middle">Percentage of patients responding to treatment</text>
<text x="-1.5" y="322.2" font-size="17.7" font-weight="bold" style="stroke-width:0.3px">B</text>
<rect x="60.29" y="527.11" width="5.4" height="2.89" fill="#000" stroke="#000" stroke-width="1.15"/>
<rect x="60.29" y="525.75" width="5.4" height="1.35" fill="#8c8c8c" stroke="#000" stroke-width="1.15"/>
<rect x="60.29" y="523.82" width="5.4" height="1.93" fill="#fff" stroke="#000" stroke-width="1.15"/>
<rect x="74.23" y="523.82" width="5.4" height="6.18" fill="#000" stroke="#000" stroke-width="1.15"/>
<rect x="74.23" y="515.72" width="5.4" height="8.11" fill="#8c8c8c" stroke="#000" stroke-width="1.15"/>
<rect x="88.16" y="513.02" width="5.4" height="16.98" fill="#000" stroke="#000" stroke-width="1.15"/>
<rect x="88.16" y="508.19" width="5.4" height="4.82" fill="#8c8c8c" stroke="#000" stroke-width="1.15"/>
<rect x="88.16" y="506.84" width="5.4" height="1.35" fill="#e6e6e6" stroke="#000" stroke-width="1.15"/>
<rect x="88.16" y="502.59" width="5.4" height="4.25" fill="#fff" stroke="#000" stroke-width="1.15"/>
<rect x="102.09" y="510.51" width="5.4" height="19.49" fill="#000" stroke="#000" stroke-width="1.15"/>
<rect x="102.09" y="502.98" width="5.4" height="7.53" fill="#8c8c8c" stroke="#000" stroke-width="1.15"/>
<rect x="102.09" y="494.49" width="5.4" height="8.49" fill="#e6e6e6" stroke="#000" stroke-width="1.15"/>
<rect x="102.09" y="491.79" width="5.4" height="2.70" fill="#fff" stroke="#000" stroke-width="1.15"/>
<rect x="116.02" y="510.51" width="5.4" height="19.49" fill="#000" stroke="#000" stroke-width="1.15"/>
<rect x="116.02" y="494.49" width="5.4" height="16.02" fill="#8c8c8c" stroke="#000" stroke-width="1.15"/>
<rect x="116.02" y="489.47" width="5.4" height="5.02" fill="#e6e6e6" stroke="#000" stroke-width="1.15"/>
<rect x="116.02" y="483.68" width="5.4" height="5.79" fill="#fff" stroke="#000" stroke-width="1.15"/>
<rect x="129.95" y="513.02" width="5.4" height="16.98" fill="#000" stroke="#000" stroke-width="1.15"/>
<rect x="129.95" y="494.49" width="5.4" height="18.53" fill="#8c8c8c" stroke="#000" stroke-width="1.15"/>
<rect x="129.95" y="486.19" width="5.4" height="8.30" fill="#e6e6e6" stroke="#000" stroke-width="1.15"/>
<rect x="129.95" y="478.86" width="5.4" height="7.33" fill="#fff" stroke="#000" stroke-width="1.15"/>
<rect x="143.88" y="513.02" width="5.4" height="16.98" fill="#000" stroke="#000" stroke-width="1.15"/>
<rect x="143.88" y="486.77" width="5.4" height="26.25" fill="#8c8c8c" stroke="#000" stroke-width="1.15"/>
<rect x="143.88" y="479.24" width="5.4" height="7.53" fill="#e6e6e6" stroke="#000" stroke-width="1.15"/>
<rect x="143.88" y="470.75" width="5.4" height="8.49" fill="#fff" stroke="#000" stroke-width="1.15"/>
<rect x="157.81" y="515.72" width="5.4" height="14.28" fill="#000" stroke="#000" stroke-width="1.15"/>
<rect x="157.81" y="481.94" width="5.4" height="33.77" fill="#8c8c8c" stroke="#000" stroke-width="1.15"/>
<rect x="157.81" y="478.08" width="5.4" height="3.86" fill="#e6e6e6" stroke="#000" stroke-width="1.15"/>
<rect x="157.81" y="465.54" width="5.4" height="12.55" fill="#fff" stroke="#000" stroke-width="1.15"/>
<rect x="171.74" y="510.51" width="5.4" height="19.49" fill="#000" stroke="#000" stroke-width="1.15"/>
<rect x="171.74" y="481.17" width="5.4" height="29.34" fill="#8c8c8c" stroke="#000" stroke-width="1.15"/>
<rect x="171.74" y="476.35" width="5.4" height="4.82" fill="#e6e6e6" stroke="#000" stroke-width="1.15"/>
<rect x="171.74" y="462.45" width="5.4" height="13.90" fill="#fff" stroke="#000" stroke-width="1.15"/>
<rect x="185.66" y="504.91" width="5.4" height="25.09" fill="#000" stroke="#000" stroke-width="1.15"/>
<rect x="185.66" y="476.35" width="5.4" height="28.56" fill="#8c8c8c" stroke="#000" stroke-width="1.15"/>
<rect x="185.66" y="468.05" width="5.4" height="8.30" fill="#e6e6e6" stroke="#000" stroke-width="1.15"/>
<rect x="185.66" y="454.34" width="5.4" height="13.70" fill="#fff" stroke="#000" stroke-width="1.15"/>
<rect x="199.59" y="504.91" width="5.4" height="25.09" fill="#000" stroke="#000" stroke-width="1.15"/>
<rect x="199.59" y="470.75" width="5.4" height="34.16" fill="#8c8c8c" stroke="#000" stroke-width="1.15"/>
<rect x="199.59" y="465.54" width="5.4" height="5.21" fill="#e6e6e6" stroke="#000" stroke-width="1.15"/>
<rect x="199.59" y="449.33" width="5.4" height="16.21" fill="#fff" stroke="#000" stroke-width="1.15"/>
<rect x="213.53" y="494.30" width="5.4" height="35.70" fill="#000" stroke="#000" stroke-width="1.15"/>
<rect x="213.53" y="468.05" width="5.4" height="26.25" fill="#8c8c8c" stroke="#000" stroke-width="1.15"/>
<rect x="213.53" y="457.43" width="5.4" height="10.62" fill="#e6e6e6" stroke="#000" stroke-width="1.15"/>
<rect x="213.53" y="441.22" width="5.4" height="16.21" fill="#fff" stroke="#000" stroke-width="1.15"/>
<rect x="227.46" y="486.19" width="5.4" height="43.81" fill="#000" stroke="#000" stroke-width="1.15"/>
<rect x="227.46" y="459.94" width="5.4" height="26.25" fill="#8c8c8c" stroke="#000" stroke-width="1.15"/>
<rect x="227.46" y="444.31" width="5.4" height="15.63" fill="#e6e6e6" stroke="#000" stroke-width="1.15"/>
<rect x="227.46" y="428.10" width="5.4" height="16.21" fill="#fff" stroke="#000" stroke-width="1.15"/>
<rect x="241.39" y="486.19" width="5.4" height="43.81" fill="#000" stroke="#000" stroke-width="1.15"/>
<rect x="241.39" y="452.03" width="5.4" height="34.16" fill="#8c8c8c" stroke="#000" stroke-width="1.15"/>
<rect x="241.39" y="438.71" width="5.4" height="13.32" fill="#e6e6e6" stroke="#000" stroke-width="1.15"/>
<rect x="241.39" y="422.50" width="5.4" height="16.21" fill="#fff" stroke="#000" stroke-width="1.15"/>
<rect x="255.32" y="494.30" width="5.4" height="35.70" fill="#000" stroke="#000" stroke-width="1.15"/>
<rect x="255.32" y="452.03" width="5.4" height="42.27" fill="#8c8c8c" stroke="#000" stroke-width="1.15"/>
<rect x="255.32" y="441.22" width="5.4" height="10.81" fill="#e6e6e6" stroke="#000" stroke-width="1.15"/>
<rect x="255.32" y="419.41" width="5.4" height="21.81" fill="#fff" stroke="#000" stroke-width="1.15"/>
<rect x="269.25" y="481.17" width="5.4" height="48.83" fill="#000" stroke="#000" stroke-width="1.15"/>
<rect x="269.25" y="449.52" width="5.4" height="31.65" fill="#8c8c8c" stroke="#000" stroke-width="1.15"/>
<rect x="269.25" y="432.92" width="5.4" height="16.60" fill="#e6e6e6" stroke="#000" stroke-width="1.15"/>
<rect x="269.25" y="408.80" width="5.4" height="24.12" fill="#fff" stroke="#000" stroke-width="1.15"/>
<rect x="283.18" y="486.19" width="5.4" height="43.81" fill="#000" stroke="#000" stroke-width="1.15"/>
<rect x="283.18" y="449.52" width="5.4" height="36.67" fill="#8c8c8c" stroke="#000" stroke-width="1.15"/>
<rect x="283.18" y="432.92" width="5.4" height="16.60" fill="#e6e6e6" stroke="#000" stroke-width="1.15"/>
<rect x="283.18" y="406.29" width="5.4" height="26.63" fill="#fff" stroke="#000" stroke-width="1.15"/>
<rect x="297.10" y="486.19" width="5.4" height="43.81" fill="#000" stroke="#000" stroke-width="1.15"/>
<rect x="297.10" y="449.52" width="5.4" height="36.67" fill="#8c8c8c" stroke="#000" stroke-width="1.15"/>
<rect x="297.10" y="435.82" width="5.4" height="13.70" fill="#e6e6e6" stroke="#000" stroke-width="1.15"/>
<rect x="297.10" y="406.29" width="5.4" height="29.53" fill="#fff" stroke="#000" stroke-width="1.15"/>
<rect x="311.03" y="486.19" width="5.4" height="43.81" fill="#000" stroke="#000" stroke-width="1.15"/>
<rect x="311.03" y="449.52" width="5.4" height="36.67" fill="#8c8c8c" stroke="#000" stroke-width="1.15"/>
<rect x="311.03" y="435.82" width="5.4" height="13.70" fill="#e6e6e6" stroke="#000" stroke-width="1.15"/>
<rect x="311.03" y="403.78" width="5.4" height="32.04" fill="#fff" stroke="#000" stroke-width="1.15"/>
<rect x="324.96" y="481.17" width="5.4" height="48.83" fill="#000" stroke="#000" stroke-width="1.15"/>
<rect x="324.96" y="435.43" width="5.4" height="45.74" fill="#8c8c8c" stroke="#000" stroke-width="1.15"/>
<rect x="324.96" y="419.41" width="5.4" height="16.02" fill="#e6e6e6" stroke="#000" stroke-width="1.15"/>
<rect x="324.96" y="387.57" width="5.4" height="31.84" fill="#fff" stroke="#000" stroke-width="1.15"/>
<rect x="338.89" y="475.77" width="5.4" height="54.23" fill="#000" stroke="#000" stroke-width="1.15"/>
<rect x="338.89" y="430.03" width="5.4" height="45.74" fill="#8c8c8c" stroke="#000" stroke-width="1.15"/>
<rect x="338.89" y="406.29" width="5.4" height="23.74" fill="#e6e6e6" stroke="#000" stroke-width="1.15"/>
<rect x="338.89" y="376.76" width="5.4" height="29.53" fill="#fff" stroke="#000" stroke-width="1.15"/>
<rect x="352.82" y="486.19" width="5.4" height="43.81" fill="#000" stroke="#000" stroke-width="1.15"/>
<rect x="352.82" y="427.52" width="5.4" height="58.67" fill="#8c8c8c" stroke="#000" stroke-width="1.15"/>
<rect x="352.82" y="408.80" width="5.4" height="18.72" fill="#e6e6e6" stroke="#000" stroke-width="1.15"/>
<rect x="352.82" y="374.25" width="5.4" height="34.55" fill="#fff" stroke="#000" stroke-width="1.15"/>
<rect x="366.75" y="475.77" width="5.4" height="54.23" fill="#000" stroke="#000" stroke-width="1.15"/>
<rect x="366.75" y="419.41" width="5.4" height="56.36" fill="#8c8c8c" stroke="#000" stroke-width="1.15"/>
<rect x="366.75" y="400.69" width="5.4" height="18.72" fill="#e6e6e6" stroke="#000" stroke-width="1.15"/>
<rect x="366.75" y="363.25" width="5.4" height="37.44" fill="#fff" stroke="#000" stroke-width="1.15"/>
<rect x="380.68" y="483.68" width="5.4" height="46.32" fill="#000" stroke="#000" stroke-width="1.15"/>
<rect x="380.68" y="414.20" width="5.4" height="69.48" fill="#8c8c8c" stroke="#000" stroke-width="1.15"/>
<rect x="380.68" y="400.69" width="5.4" height="13.51" fill="#e6e6e6" stroke="#000" stroke-width="1.15"/>
<rect x="380.68" y="360.74" width="5.4" height="39.95" fill="#fff" stroke="#000" stroke-width="1.15"/>
<rect x="394.61" y="486.19" width="5.4" height="43.81" fill="#000" stroke="#000" stroke-width="1.15"/>
<rect x="394.61" y="421.92" width="5.4" height="64.27" fill="#8c8c8c" stroke="#000" stroke-width="1.15"/>
<rect x="394.61" y="406.29" width="5.4" height="15.63" fill="#e6e6e6" stroke="#000" stroke-width="1.15"/>
<rect x="394.61" y="360.74" width="5.4" height="45.55" fill="#fff" stroke="#000" stroke-width="1.15"/>
<rect x="408.54" y="483.68" width="5.4" height="46.32" fill="#000" stroke="#000" stroke-width="1.15"/>
<rect x="408.54" y="416.71" width="5.4" height="66.97" fill="#8c8c8c" stroke="#000" stroke-width="1.15"/>
<rect x="408.54" y="406.29" width="5.4" height="10.42" fill="#e6e6e6" stroke="#000" stroke-width="1.15"/>
<rect x="408.54" y="358.04" width="5.4" height="48.25" fill="#fff" stroke="#000" stroke-width="1.15"/>
<rect x="422.47" y="483.68" width="5.4" height="46.32" fill="#000" stroke="#000" stroke-width="1.15"/>
<rect x="422.47" y="416.71" width="5.4" height="66.97" fill="#8c8c8c" stroke="#000" stroke-width="1.15"/>
<rect x="422.47" y="408.80" width="5.4" height="7.91" fill="#e6e6e6" stroke="#000" stroke-width="1.15"/>
<rect x="422.47" y="358.04" width="5.4" height="50.76" fill="#fff" stroke="#000" stroke-width="1.15"/>
<rect x="436.40" y="488.70" width="5.4" height="41.30" fill="#000" stroke="#000" stroke-width="1.15"/>
<rect x="436.40" y="427.52" width="5.4" height="61.18" fill="#8c8c8c" stroke="#000" stroke-width="1.15"/>
<rect x="436.40" y="414.20" width="5.4" height="13.32" fill="#e6e6e6" stroke="#000" stroke-width="1.15"/>
<rect x="436.40" y="358.04" width="5.4" height="56.16" fill="#fff" stroke="#000" stroke-width="1.15"/>
<rect x="450.33" y="491.79" width="5.4" height="38.21" fill="#000" stroke="#000" stroke-width="1.15"/>
<rect x="450.33" y="425.01" width="5.4" height="66.78" fill="#8c8c8c" stroke="#000" stroke-width="1.15"/>
<rect x="450.33" y="416.71" width="5.4" height="8.30" fill="#e6e6e6" stroke="#000" stroke-width="1.15"/>
<rect x="450.33" y="358.04" width="5.4" height="58.67" fill="#fff" stroke="#000" stroke-width="1.15"/>
<rect x="464.26" y="491.79" width="5.4" height="38.21" fill="#000" stroke="#000" stroke-width="1.15"/>
<rect x="464.26" y="427.52" width="5.4" height="64.27" fill="#8c8c8c" stroke="#000" stroke-width="1.15"/>
<rect x="464.26" y="414.20" width="5.4" height="13.32" fill="#e6e6e6" stroke="#000" stroke-width="1.15"/>
<rect x="464.26" y="355.53" width="5.4" height="58.67" fill="#fff" stroke="#000" stroke-width="1.15"/>
<rect x="478.19" y="491.79" width="5.4" height="38.21" fill="#000" stroke="#000" stroke-width="1.15"/>
<rect x="478.19" y="427.52" width="5.4" height="64.27" fill="#8c8c8c" stroke="#000" stroke-width="1.15"/>
<rect x="478.19" y="416.71" width="5.4" height="10.81" fill="#e6e6e6" stroke="#000" stroke-width="1.15"/>
<rect x="478.19" y="355.53" width="5.4" height="61.18" fill="#fff" stroke="#000" stroke-width="1.15"/>
<rect x="492.12" y="494.30" width="5.4" height="35.70" fill="#000" stroke="#000" stroke-width="1.15"/>
<rect x="492.12" y="430.03" width="5.4" height="64.27" fill="#8c8c8c" stroke="#000" stroke-width="1.15"/>
<rect x="492.12" y="416.71" width="5.4" height="13.32" fill="#e6e6e6" stroke="#000" stroke-width="1.15"/>
<rect x="492.12" y="355.53" width="5.4" height="61.18" fill="#fff" stroke="#000" stroke-width="1.15"/>
<rect x="53.8" y="345.6" width="152.5" height="61.9" fill="#fff" stroke="#000" stroke-width="1.3"/>
<rect x="61" y="352.30" width="6.4" height="6.4" fill="#fff" stroke="#000" stroke-width="1.15"/>
<text x="72.4" y="358.60" font-size="9.629999999999999">Stringent complete response</text>
<rect x="61" y="366.25" width="6.4" height="6.4" fill="#e6e6e6" stroke="#000" stroke-width="1.15"/>
<text x="72.4" y="372.55" font-size="9.629999999999999">Complete response</text>
<rect x="61" y="380.20" width="6.4" height="6.4" fill="#8c8c8c" stroke="#000" stroke-width="1.15"/>
<text x="72.4" y="386.50" font-size="9.629999999999999">Very good partial response</text>
<rect x="61" y="394.15" width="6.4" height="6.4" fill="#000" stroke="#000" stroke-width="1.15"/>
<text x="72.4" y="400.45" font-size="9.629999999999999">Partial response</text>
</g>
</svg>
</body></html>
